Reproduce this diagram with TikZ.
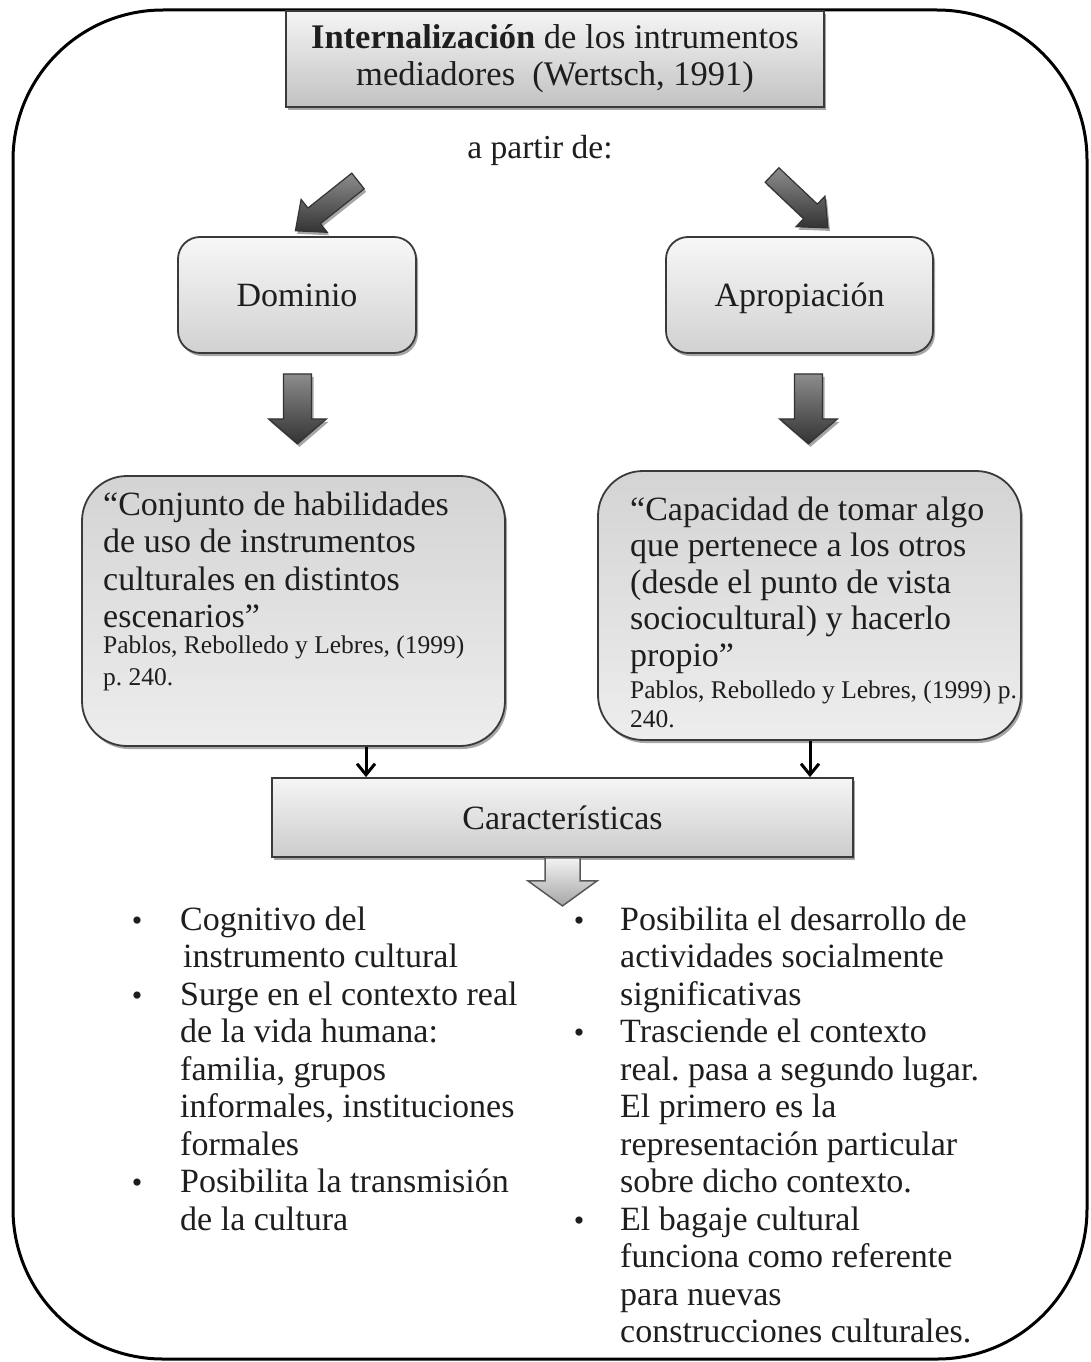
\documentclass[tikz,border=0pt]{standalone}
\usepackage{fontspec}
\setmainfont{Liberation Serif}
\usetikzlibrary{shadows,arrows.meta}

\definecolor{ink}{HTML}{1E1E1E}
\definecolor{edge}{HTML}{3A3A3A}

\newcommand\bodyfont{\fontsize{34}{37.5}\selectfont}
\newcommand\citefont{\fontsize{25.5}{32}\selectfont}
\frenchspacing

\tikzset{
  frameline/.style={line width=3pt, draw=black, rounded corners=150pt},
  boxshadow/.style={drop shadow={shadow xshift=2pt, shadow yshift=-3pt, opacity=0.35, fill=black}},
  sqbox/.style={draw=edge, line width=1.8pt, top color=black!4, bottom color=black!24,
                boxshadow, text=ink, inner sep=0pt},
  rbox/.style={sqbox, rounded corners=22pt, top color=black!3, bottom color=black!18,
               text height=27pt, text depth=5pt},
  qbox/.style={sqbox, rounded corners=45pt, top color=black!17, bottom color=black!7},
  darkarrow/.style={draw=black!80, line width=1.2pt, top color=black!45, bottom color=black!80,
                boxshadow},
  lightarrow/.style={draw=black!65, line width=1.5pt, top color=black!5, bottom color=black!35},
  conn/.style={draw=black, line width=3pt, -{Straight Barb[length=11pt,width=18pt,line width=3pt]}},
  bodytext/.style={anchor=base west, text=ink, inner sep=0pt, font=\bodyfont},
  citetext/.style={anchor=base west, text=ink, inner sep=0pt, font=\citefont},
  bul/.style={anchor=base, text=ink, inner sep=0pt, font=\fontsize{30}{30}\selectfont},
}

\begin{document}
\begin{tikzpicture}[x=1pt, y=-1pt]
\useasboundingbox (0,0) rectangle (1090,1362);
\fill[white] (0,0) rectangle (1090,1362);

% rounded frame around the whole scheme
\draw[frameline] (13,10) rectangle (1087,1359);

% heading
\node[sqbox, minimum width=538pt, minimum height=96pt, align=center,
      font=\fontsize{34.5}{37}\selectfont] (title) at (555,59)
  {\textbf{Internalización} de los intrumentos\\mediadores\ \ (Wertsch, 1991)};

\node[text=ink, inner sep=0pt, font=\fontsize{33.5}{37}\selectfont] (from) at (540,150) {a partir de:};

% slanted block arrows towards the two concepts
\begin{scope}[shift={(358,181)}, rotate=-141.5]
  \draw[darkarrow] (0,-10) -- (56,-10) -- (56,-21) -- (80,0) -- (56,21) -- (56,10) -- (0,10) -- cycle;
\end{scope}
\begin{scope}[shift={(772,175)}, rotate=-43.4]
  \draw[darkarrow] (0,-10) -- (53,-10) -- (53,-21) -- (77,0) -- (53,21) -- (53,10) -- (0,10) -- cycle;
\end{scope}

% the two concepts
\node[rbox, minimum width=238pt, minimum height=116pt, font=\fontsize{34}{38}\selectfont] (dom) at (297,295) {Dominio};
\node[rbox, minimum width=267pt, minimum height=116pt, font=\fontsize{34}{38}\selectfont] (apr) at (799.5,295) {Apropiación};

% downward block arrows
\draw[darkarrow] ([shift={(-13.5,20)}]dom.south) -- ++(0,45) -- ++(-15,0) -- ++(29,25)
  -- ++(29,-25) -- ++(-15,0) -- ++(0,-45) -- cycle;
\draw[darkarrow] ([shift={(-5,20)}]apr.south) -- ++(0,45) -- ++(-15,0) -- ++(29,25)
  -- ++(29,-25) -- ++(-15,0) -- ++(0,-45) -- cycle;

% definitions
\node[qbox, minimum width=423pt, minimum height=270pt] (qL) at (293.5,611) {};
\node[qbox, minimum width=423pt, minimum height=269pt] (qR) at (809.5,605.5) {};

\node[bodytext] (qLtext) at (103,515) {\parbox[t]{400pt}{\bodyfont
  “Conjunto de habilidades\\
  de uso de instrumentos\\
  culturales en distintos\\
  escenarios”}};
\node[citetext] (qLcite) at (103,653) {\parbox[t]{400pt}{\citefont
  Pablos, Rebolledo y Lebres, (1999)\\
  p. 240.}};

\node[bodytext] (qRtext) at (630,520) {\parbox[t]{400pt}{\fontsize{34}{36.5}\selectfont
  “Capacidad de tomar algo\\
  que pertenece a los otros\\
  (desde el punto de vista\\
  sociocultural) y hacerlo\\
  propio”}};
\node[citetext] (qRcite) at (630,698) {\parbox[t]{400pt}{\fontsize{25.5}{29.5}\selectfont
  Pablos, Rebolledo y Lebres, (1999) p.\\
  240.}};

% characteristics
\node[sqbox, minimum width=581pt, minimum height=79pt, font=\fontsize{34}{38}\selectfont,
      top color=black!4, bottom color=black!20] (car) at (562.5,817.5) {Características};

\draw[conn] ([xshift=72.5pt]qL.south) -- ([xshift=72.5pt]qL.south |- car.north);
\draw[conn] ([xshift=0.5pt]qR.south) -- ([xshift=0.5pt]qR.south |- car.north);

\draw[lightarrow] ([xshift=-17.5pt]car.south) -- ++(0,23) -- ++(-17,0) -- ++(34.5,25)
  -- ++(34.5,-25) -- ++(-17,0) -- ++(0,-23) -- cycle;

% left list
\node[bul] (bL1) at (137,930) {•};
\node[bul] (bL2) at (137,1005) {•};
\node[bul] (bL3) at (137,1192.5) {•};
\node[bodytext] (listL) at (180,930) {\parbox[t]{400pt}{\bodyfont
  Cognitivo del\\
  \hspace*{3pt}instrumento cultural\\
  Surge en el contexto real\\
  de la vida humana:\\
  familia, grupos\\
  informales, instituciones\\
  formales\\
  Posibilita la transmisión\\
  de la cultura}};

% right list
\node[bul] (bR1) at (579,930) {•};
\node[bul] (bR2) at (579,1042.5) {•};
\node[bul] (bR3) at (579,1230) {•};
\node[bodytext] (listR) at (620,930) {\parbox[t]{420pt}{\bodyfont
  Posibilita el desarrollo de\\
  actividades socialmente\\
  significativas\\
  Trasciende el contexto\\
  real. pasa a segundo lugar.\\
  El primero es la\\
  representación particular\\
  sobre dicho contexto.\\
  El bagaje cultural\\
  funciona como referente\\
  para nuevas\\
  construcciones culturales.}};
\end{tikzpicture}
\end{document}
